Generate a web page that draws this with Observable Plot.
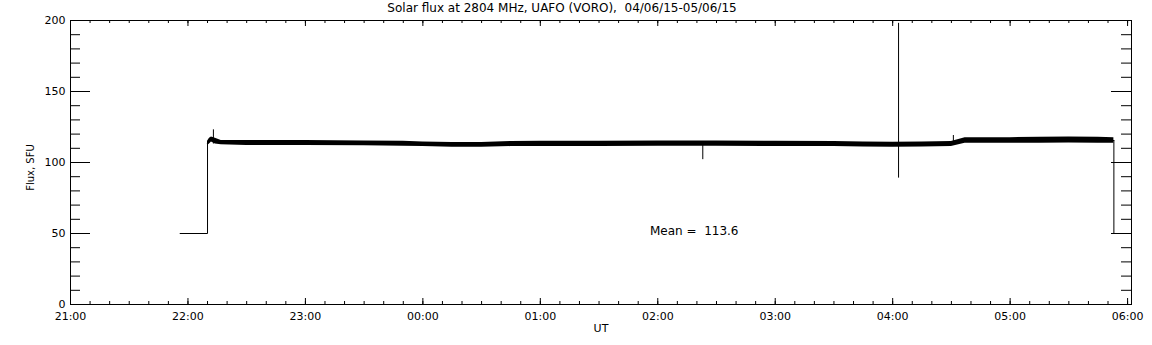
<!DOCTYPE html>
<html><head><meta charset="utf-8">
<script src="https://cdn.jsdelivr.net/npm/d3@7"></script>
<script src="https://cdn.jsdelivr.net/npm/@observablehq/plot@0.6"></script>
<style>body{margin:0;background:#fff} svg{display:block}</style>
</head><body><div id="chart"></div>
<script>
// ---- text ----
const title = "Solar flux at 2804 MHz, UAFO (VORO),  04/06/15-05/06/15";
const yLabel = "Flux, SFU";
const xLabel = "UT";
const meanLabel = "Mean =  113.6";
const meanTime = "01:56";
const meanValue = 51.5;

// ---- axis ----
const xStart = "21:00", xEnd = "06:02";
const xTickLabels = ["21:00","22:00","23:00","00:00","01:00","02:00","03:00","04:00","05:00","06:00"];
const yMajorTicks = [0, 50, 100, 150, 200];
const yMinorTicks = [0,10,20,30,40,50,60,70,80,90,100,110,120,130,140,150,160,170,180,190,200];

// ---- data: noise envelope of the flux record (SFU) ----
const bandTimes = ["22:10","22:11","22:12","22:14","22:17","22:30","23:00","23:30","23:50","00:00","00:15","00:30","00:45","01:00","01:30","02:00","02:30","03:00","03:30","03:45","04:00","04:15","04:30","04:37","04:45","05:00","05:15","05:30","05:45","05:53"];
const bandLow  = [112,113,114.5,113,112.5,112,112,111.8,111.5,111.3,110.8,110.8,111.2,111.3,111.3,111.5,111.5,111.3,111.2,111,110.8,111,111.3,113.5,113.5,113.5,113.5,113.8,113.6,113.5];
const bandHigh = [115,117,118,117,115.5,115.5,115.5,115.2,115,114.5,114,114,114.8,115,115,115.2,115.2,115,114.8,114.5,114.3,114.5,114.8,117.5,117.5,117.5,117.8,118,117.8,117.5];
// start / end segments
const startTimes = ["21:56","22:10","22:10"];
const startValues = [50, 50, 114];
const endTimes = ["05:53","05:53"];
const endValues = [115.5, 50];
// isolated spikes
const spikeTimes = ["22:13","02:23","04:03","04:31"];
const spikeLow  = [113, 102, 89, 113];
const spikeHigh = [123, 113, 198, 119];

// ---- helpers ----
function t(s) {
  const [h, m] = s.split(":").map(Number);
  return h >= 12 ? new Date(Date.UTC(2015, 5, 4, h, m)) : new Date(Date.UTC(2015, 5, 5, h, m));
}
const band = bandTimes.map((s, i) => ({time: t(s), low: bandLow[i], high: bandHigh[i]}));
const startSeg = startTimes.map((s, i) => ({time: t(s), v: startValues[i]}));
const endSeg = endTimes.map((s, i) => ({time: t(s), v: endValues[i]}));
const spikes = spikeTimes.map((s, i) => ({time: t(s), low: spikeLow[i], high: spikeHigh[i]}));
const xMajor = xTickLabels.map(t);
const xMinor = d3.utcMinute.every(10).range(t("21:00"), new Date(+t("06:00") + 1));

const W = 1152, H = 345, mL = 70, mR = 21, mT = 20, mB = 41;
const fw = W - mL - mR, fh = H - mT - mB;

const chart = Plot.plot({
  width: W, height: H,
  marginLeft: mL, marginRight: mR, marginTop: mT, marginBottom: mB,
  style: {fontFamily: "DejaVu Sans", fontSize: "11px", background: "white", color: "black", overflow: "visible"},
  x: {type: "utc", domain: [t(xStart), t(xEnd)], axis: null},
  y: {domain: [0, 200], axis: null},
  marks: [
    Plot.areaY(band, {x: "time", y1: "low", y2: "high", fill: "black"}),
    Plot.line(band, {x: "time", y: d => (d.low + d.high) / 2, stroke: "black", strokeWidth: 1}),
    Plot.line(startSeg, {x: "time", y: "v", stroke: "black", strokeWidth: 1}),
    Plot.line(endSeg, {x: "time", y: "v", stroke: "black", strokeWidth: 1}),
    Plot.ruleX(spikes, {x: "time", y1: "low", y2: "high", stroke: "black", strokeWidth: 1}),
    Plot.frame({stroke: "black", strokeWidth: 1}),
    // inward ticks
    Plot.tickX(xMinor, {x: d => d, insetTop: fh - 3, stroke: "black"}),
    Plot.tickX(xMinor, {x: d => d, insetBottom: fh - 3, stroke: "black"}),
    Plot.tickX(xMajor, {x: d => d, insetTop: fh - 6, stroke: "black"}),
    Plot.tickX(xMajor, {x: d => d, insetBottom: fh - 6, stroke: "black"}),
    Plot.tickY(yMinorTicks, {y: d => d, insetRight: fw - 10, stroke: "black"}),
    Plot.tickY(yMinorTicks, {y: d => d, insetLeft: fw - 10, stroke: "black"}),
    Plot.tickY(yMajorTicks, {y: d => d, insetRight: fw - 20, stroke: "black"}),
    Plot.tickY(yMajorTicks, {y: d => d, insetLeft: fw - 20, stroke: "black"}),
    // labels
    Plot.axisX(xMajor, {anchor: "bottom", tickSize: 0, tickPadding: 8, tickFormat: d3.utcFormat("%H:%M"), label: null, fill: "black"}),
    Plot.axisY(yMajorTicks, {anchor: "left", tickSize: 0, tickPadding: 5, label: null, fill: "black"}),
    Plot.text([yLabel], {frameAnchor: "left", rotate: -90, dx: -39.5, dy: 5, textAnchor: "middle", lineAnchor: "middle", fill: "black", fontSize: 10}),
    Plot.text([xLabel], {frameAnchor: "bottom", dx: 0, dy: 24, textAnchor: "middle", lineAnchor: "middle", fill: "black"}),
    Plot.text([title], {frameAnchor: "top", dx: -39, dy: -12, textAnchor: "middle", lineAnchor: "middle", fill: "black", fontSize: 12}),
    Plot.text([meanLabel], {x: t(meanTime), y: meanValue, textAnchor: "start", lineAnchor: "middle", fill: "black", fontSize: 12})
  ]
});
document.getElementById("chart").appendChild(chart);
</script>
</body></html>
